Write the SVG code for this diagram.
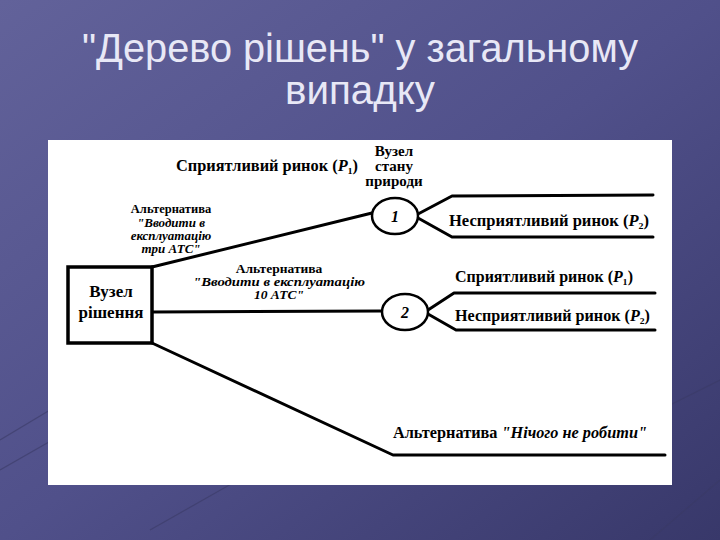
<svg xmlns="http://www.w3.org/2000/svg" width="720" height="540" viewBox="0 0 720 540">
  <defs>
    <linearGradient id="bg" x1="0" y1="0" x2="1" y2="1">
      <stop offset="0" stop-color="#62629a"/>
      <stop offset="0.5" stop-color="#50508a"/>
      <stop offset="1" stop-color="#38386a"/>
    </linearGradient>
    <style>
      .title { font-family: "Liberation Sans", Arial, sans-serif; font-size: 40px; fill: #e8e8f6; text-anchor: middle; }
      .lbl { font-family: "Liberation Serif", "Times New Roman", "DejaVu Serif", serif; font-weight: bold; fill: #000; }
      .it { font-style: italic; }
      .mid { text-anchor: middle; }
      .ln { fill: none; stroke: #000; stroke-width: 3; stroke-linecap: round; stroke-linejoin: round; }
      .node { fill: #fff; stroke: #000; stroke-width: 2.5; }
      .deco { stroke: #3a3a66; stroke-width: 1.2; opacity: 0.6; fill: none; }
    </style>
  </defs>

  <rect x="0" y="0" width="720" height="540" fill="url(#bg)"/>
  <g id="background-deco">
    <path class="deco" d="M0 470 L140 390 M0 440 L50 410 M150 530 L300 445 M650 540 L720 480 M660 410 L720 380"/>
  </g>

  <g id="title">
    <text class="title" x="360" y="62" textLength="556" lengthAdjust="spacingAndGlyphs">"Дерево рішень" у загальному</text>
    <text class="title" x="360" y="104" textLength="150" lengthAdjust="spacingAndGlyphs">випадку</text>
  </g>

  <rect id="panel" x="48" y="140" width="624" height="345" fill="#fff"/>

  <g id="connectors">
    <path class="ln" d="M152 267 L372 213"/>
    <path class="ln" d="M152 312 L382 311"/>
    <path class="ln" d="M152 343 L393 455 L665 455"/>
    <path class="ln" d="M418 214 L452 196 L653 195"/>
    <path class="ln" d="M418 218 L452 237 L653 237"/>
    <path class="ln" d="M428 310 L454 293 L655 293"/>
    <path class="ln" d="M428 314 L456 330 L655 330"/>
  </g>

  <g id="decision-node">
    <rect x="68" y="267" width="84" height="76" fill="#fff" stroke="#000" stroke-width="3.5"/>
    <text class="lbl mid" x="111" y="297" font-size="17">Вузел</text>
    <text class="lbl mid" x="111" y="318" font-size="17">рішення</text>
  </g>

  <g id="chance-node-1">
    <ellipse class="node" cx="395" cy="216" rx="23" ry="18"/>
    <text class="lbl it mid" x="395" y="222" font-size="16">1</text>
  </g>

  <g id="chance-node-2">
    <ellipse class="node" cx="405" cy="312" rx="23" ry="18"/>
    <text class="lbl it mid" x="405" y="318" font-size="16">2</text>
  </g>

  <g id="labels">
    <text class="lbl mid" x="394" y="156" font-size="15">Вузел</text>
    <text class="lbl mid" x="394" y="171" font-size="15">стану</text>
    <text class="lbl mid" x="394" y="186" font-size="15">природи</text>

    <text class="lbl" x="176" y="171" font-size="16.5" textLength="182" lengthAdjust="spacingAndGlyphs">Сприятливий ринок (<tspan class="it">P</tspan>₁)</text>
    <text class="lbl" x="449" y="226" font-size="16.5" textLength="200" lengthAdjust="spacingAndGlyphs">Несприятливий ринок (<tspan class="it">P</tspan>₂)</text>
    <text class="lbl" x="455" y="282" font-size="16.5" textLength="178" lengthAdjust="spacingAndGlyphs">Сприятливий ринок (<tspan class="it">P</tspan>₁)</text>
    <text class="lbl" x="455" y="321" font-size="16.5" textLength="195" lengthAdjust="spacingAndGlyphs">Несприятливий ринок (<tspan class="it">P</tspan>₂)</text>

    <text class="lbl mid" x="171" y="213" font-size="12.5">Альтернатива</text>
    <text class="lbl it mid" x="171" y="227" font-size="13">"Вводити в</text>
    <text class="lbl it mid" x="171" y="240" font-size="13">експлуатацію</text>
    <text class="lbl it mid" x="171" y="253" font-size="13">три АТС"</text>

    <text class="lbl mid" x="279" y="273" font-size="13.5">Альтернатива</text>
    <text class="lbl it mid" x="279" y="286" font-size="13.5" textLength="172" lengthAdjust="spacingAndGlyphs">"Вводити в експлуатацію</text>
    <text class="lbl it mid" x="279" y="299" font-size="13.5">10 АТС"</text>

    <text class="lbl" x="393" y="438" font-size="16" textLength="254" lengthAdjust="spacingAndGlyphs">Альтернатива <tspan class="it">"Нічого не робити"</tspan></text>
  </g>
</svg>
